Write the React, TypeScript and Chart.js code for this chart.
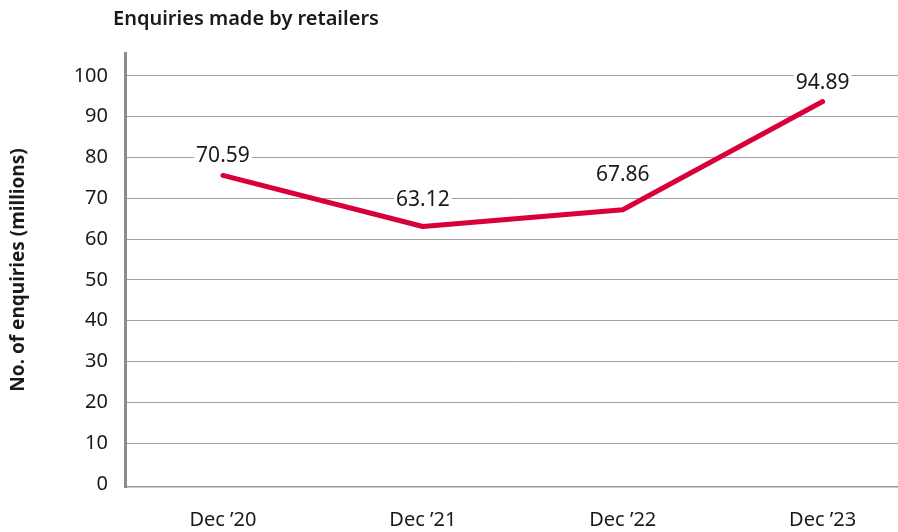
import React, { useEffect, useRef } from "react";
import { Chart, registerables } from "chart.js";

Chart.register(...registerables);

const categories = ["Dec \u201920", "Dec \u201921", "Dec \u201922", "Dec \u201923"];
const enquiries = [75.6, 63.1, 67.2, 93.7];
const valueLabels = ["70.59", "63.12", "67.86", "94.89"];
const yTicks = [0, 10, 20, 30, 40, 50, 60, 70, 80, 90, 100];
const chartTitle = "Enquiries made by retailers";
const yAxisTitle = "No. of enquiries (millions)";

// styling: how far above each point its value label sits (px)
const labelLift = [19, 26, 35, 19];
const FONT = "'Noto Sans', 'Open Sans', sans-serif";
const TEXT = "#1a1a1a";

export default function App() {
  const ref = useRef<HTMLCanvasElement | null>(null);

  useEffect(() => {
    document.body.style.margin = "0";
    const canvas = ref.current;
    if (!canvas) return;

    const overlay = {
      id: "overlay",
      afterDatasetsDraw(chart: any) {
        const ctx = chart.ctx;
        ctx.save();
        // title
        ctx.font = `600 20px ${FONT}`;
        ctx.fillStyle = TEXT;
        ctx.textAlign = "left";
        ctx.textBaseline = "middle";
        ctx.fillText(chartTitle, 113, 19);
        // value labels
        const meta = chart.getDatasetMeta(0);
        ctx.font = `400 21px ${FONT}`;
        ctx.textAlign = "center";
        meta.data.forEach((pt: any, i: number) => {
          const txt = valueLabels[i];
          const x = pt.x;
          const y = pt.y - labelLift[i];
          const w = ctx.measureText(txt).width;
          ctx.fillStyle = "#ffffff";
          ctx.fillRect(x - w / 2 - 2, y - 10, w + 4, 20);
          ctx.fillStyle = TEXT;
          ctx.fillText(txt, x, y);
        });
        ctx.restore();
      },
    };

    const chart = new Chart(canvas, {
      type: "line",
      data: {
        datasets: [
          {
            data: enquiries.map((v, i) => ({ x: i, y: v })),
            borderColor: "#d9003a",
            borderWidth: 5,
            pointRadius: 0,
            tension: 0,
            borderCapStyle: "round",
            borderJoinStyle: "round",
          },
        ],
      },
      options: {
        animation: false,
        responsive: false,
        maintainAspectRatio: false,
        layout: { padding: { top: 53, left: 0, right: 0, bottom: 0 } },
        plugins: {
          legend: { display: false },
          tooltip: { enabled: false },
          title: { display: false },
        },
        scales: {
          x: {
            type: "linear",
            min: -0.49,
            max: 3.377,
            afterBuildTicks: (s: any) => {
              s.ticks = categories.map((_, i) => ({ value: i }));
            },
            afterFit: (s: any) => {
              s.height = 45;
            },
            grid: { display: false, drawTicks: false },
            border: { display: true, color: "#9a9a9a", width: 1.5 },
            ticks: {
              autoSkip: false,
              maxRotation: 0,
              padding: 21,
              color: TEXT,
              font: { family: FONT, size: 20 },
              callback: (v: any) => categories[Math.round(Number(v))] ?? "",
            },
          },
          y: {
            type: "linear",
            min: -0.74,
            max: 105.6,
            afterBuildTicks: (s: any) => {
              s.ticks = yTicks.map((v) => ({ value: v }));
            },
            afterFit: (s: any) => {
              s.width = 125;
            },
            grid: {
              color: (c: any) => (c.tick && c.tick.value === 0 ? "rgba(0,0,0,0)" : "#a0a0a0"),
              lineWidth: 1,
              drawTicks: false,
            },
            border: { display: true, color: "#8c8c8c", width: 3 },
            ticks: {
              padding: 17,
              color: TEXT,
              font: { family: FONT, size: 20 },
            },
            title: {
              display: true,
              text: yAxisTitle,
              color: TEXT,
              font: { family: FONT, size: 19, weight: "bold" },
              padding: { top: 7, bottom: 0 },
            },
          },
        },
      },
      plugins: [overlay],
    } as any);

    return () => chart.destroy();
  }, []);

  return (
    <div style={{ width: 898, height: 532 }}>
      <canvas ref={ref} width={898} height={532} style={{ display: "block" }} />
    </div>
  );
}
